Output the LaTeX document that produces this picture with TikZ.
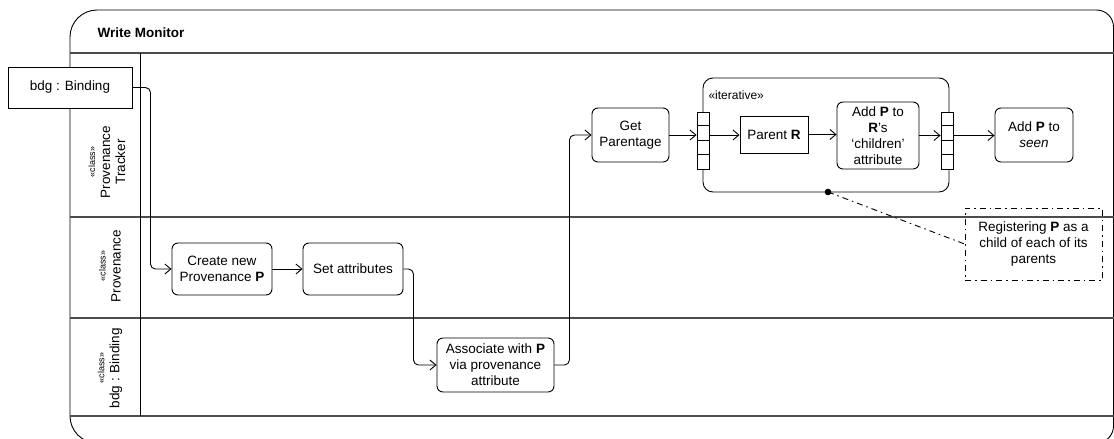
\documentclass[tikz,border=0pt]{standalone}
\usepackage{fontspec}
\setmainfont{Liberation Sans}
\usetikzlibrary{arrows.meta}
\begin{document}
\begin{tikzpicture}[x=1pt,y=-1pt,
  txt/.style={font=\fontsize{13.5}{16}\selectfont},
  frameline/.style={draw=black, line width=0.9pt},
  laneline/.style={draw=black!70, line width=1.2pt},
  action/.style 2 args={draw, line width=0.9pt, rounded corners=6pt, fill=white,
    align=center, txt, inner sep=0pt, minimum width=#1, minimum height=#2},
  plainbox/.style 2 args={draw, line width=0.9pt, fill=white, align=center, txt,
    inner sep=0pt, minimum width=#1, minimum height=#2},
  pinbar/.style={draw, line width=0.9pt, fill=white, inner sep=0pt,
    minimum width=12pt, minimum height=57pt},
  conn/.style={draw, line width=0.9pt, rounded corners=5pt,
    -{Straight Barb[length=6pt,width=10pt,line width=0.9pt]}},
  notebox/.style={draw, line width=0.9pt, dash pattern=on 6pt off 4pt on 1.5pt off 4pt,
    align=center, txt, inner sep=0pt, minimum width=137pt, minimum height=72pt},
  lanelabel/.style={rotate=90, align=center, font=\fontsize{13.5}{15}\selectfont},
  stereo/.style={font=\fontsize{9}{15}\selectfont}
]
\useasboundingbox (0,0) rectangle (1114,439);
\clip (0,0) rectangle (1114,439);

% outer activity frame
\draw[frameline] (70,200) [rounded corners=27pt] -- (70,10) [rounded corners=17pt] -- (1113.5,10)
  -- (1113.5,443) [rounded corners=27pt] -- (70,443) -- cycle;
\node[anchor=west, font=\bfseries\fontsize{13.5}{16}\selectfont] (title) at (94,33) {Write Monitor};

% swimlane grid
\draw[laneline] (70,53) -- (1114,53);
\draw[laneline] (70,217) -- (1114,217);
\draw[laneline] (70,318) -- (1114,318);
\draw[laneline] (70,416) -- (1114,416);
\draw[frameline] (140,53) -- (140,416);

% lane headers
\node[lanelabel] (lane1) at (107,162) {{\fontsize{9}{15}\selectfont «class»}\\Provenance\\Tracker};
\node[lanelabel] (lane2) at (110,266) {{\fontsize{9}{15}\selectfont «class»}\\Provenance};
\node[lanelabel] (lane3) at (110,368) {{\fontsize{9}{15}\selectfont «class»}\\bdg : Binding};

% object node
\node[plainbox={124pt}{41pt}] (bdg) at (70,87.5) {bdg : Binding};

% actions
\node[action={100pt}{52pt}] (create) at (222,269) {Create new\\Provenance \textbf{P}};
\node[action={100pt}{52pt}] (setattr) at (353,269) {Set attributes};
\node[action={117pt}{54pt}] (assoc) at (495.5,365) {Associate with \textbf{P}\\via provenance\\attribute};
\node[action={77pt}{54pt}] (getpar) at (630.5,135) {Get\\Parentage};

% expansion region
\node[draw, line width=0.9pt, rounded corners=10pt, minimum width=246pt, minimum height=114pt,
  inner sep=0pt] (iter) at (826,135) {};
\node[anchor=west, font=\fontsize{12}{14}\selectfont] (iterlbl) at (705,95) {«iterative»};
\node[pinbar] (lpin) at (703,140.5) {};
\node[pinbar] (rpin) at (947,140.5) {};
\foreach \k in {1,2,3} {
  \draw[line width=0.9pt] (lpin.north west) ++(0,\k*14.25) -- ++(12,0);
  \draw[line width=0.9pt] (rpin.north west) ++(0,\k*14.25) -- ++(12,0);
}
\node[plainbox={68pt}{37pt}] (parent) at (774,134.5) {Parent \textbf{R}};
\node[action={82pt}{67pt}] (addr) at (878,135.5) {Add \textbf{P} to\\\textbf{R}’s\\‘children’\\attribute};
\node[action={78pt}{54pt}] (seen) at (1034,135) {Add \textbf{P} to\\\textit{seen}};

% comment
\node[notebox] (note) at (1033.5,244) {Registering \textbf{P} as a\\child of each of its\\parents};
\coordinate (dot) at (828,192);
\draw[line width=0.9pt, dash pattern=on 6pt off 4pt on 1.5pt off 4pt] (dot) -- (note.west);
\fill (dot) circle (3.3pt);

% control flow
\draw[conn] (bdg.east) -- ([xshift=18pt]bdg.east) |- (create.west);
\draw[conn] (create.east) -- (setattr.west);
\draw[conn] (setattr.east) -- ([xshift=10pt]setattr.east) |- (assoc.west);
\draw[conn] (assoc.east) -- ([xshift=15pt]assoc.east) |- (getpar.west);
\draw[conn] (getpar.east) -- (getpar.east -| lpin.west);
\draw[conn] (getpar.east -| lpin.east) -- (getpar.east -| parent.west);
\draw[conn] (parent.east) -- (parent.east -| addr.west);
\draw[conn] (addr.east) -- (addr.east -| rpin.west);
\draw[conn] (addr.east -| rpin.east) -- (addr.east -| seen.west);
\end{tikzpicture}
\end{document}
